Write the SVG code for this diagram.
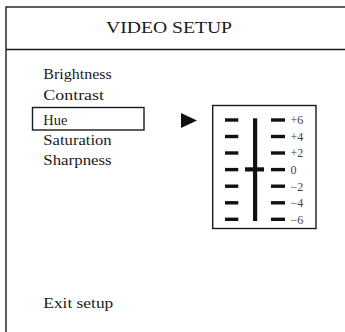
<svg xmlns="http://www.w3.org/2000/svg" width="345" height="332" viewBox="0 0 345 332">
<style>
.frame{fill:none;stroke:#1a1a1a;stroke-width:1.4}
.menu{font-family:"Liberation Serif",serif;font-size:14.5px;fill:#1a1a1a}
.title{font-family:"Liberation Serif",serif;font-size:17.5px;fill:#1a1a1a}
.lbl{font-family:"Liberation Serif",serif;font-size:12px;fill:#444}
.tick{fill:#111}
</style>
<rect width="345" height="332" fill="#fff"/>
<g id="frame">
<rect class="frame" x="6" y="7" width="360" height="340"/>
<line class="frame" x1="6" y1="49.5" x2="345" y2="49.5"/>
<text class="title" x="106" y="33.3" textLength="126" lengthAdjust="spacingAndGlyphs">VIDEO SETUP</text>
</g>
<g id="menu">
<text class="menu" x="43.3" y="79" textLength="68.4" lengthAdjust="spacingAndGlyphs">Brightness</text>
<text class="menu" x="43.3" y="99.5" textLength="60.7" lengthAdjust="spacingAndGlyphs">Contrast</text>
<g id="hue">
<rect class="frame" x="32.5" y="107.5" width="111.5" height="22.5" stroke-width="1.2"/>
<text class="menu" x="43.3" y="124.5" textLength="24" lengthAdjust="spacingAndGlyphs">Hue</text>
</g>
<text class="menu" x="43.3" y="144.5" textLength="68.4" lengthAdjust="spacingAndGlyphs">Saturation</text>
<text class="menu" x="43.3" y="164.5" textLength="68.4" lengthAdjust="spacingAndGlyphs">Sharpness</text>
<text class="menu" x="43.3" y="308.3" textLength="70" lengthAdjust="spacingAndGlyphs">Exit setup</text>
</g>
<g id="connectors">
<polygon points="181,113 181,128 197,120.5" fill="#111"/>
</g>
<g id="slider">
<rect class="frame" x="212.7" y="105.5" width="103.3" height="123" stroke-width="1.2"/>
<g class="tick">
<rect x="225" y="118.3" width="13.3" height="3.4"/>
<rect x="225" y="134.8" width="13.3" height="3.4"/>
<rect x="225" y="151.3" width="13.3" height="3.4"/>
<rect x="225" y="167.9" width="13.3" height="3.4"/>
<rect x="225" y="184.5" width="13.3" height="3.4"/>
<rect x="225" y="201.1" width="13.3" height="3.4"/>
<rect x="225" y="217.6" width="13.3" height="3.4"/>
<rect x="271" y="118.3" width="14" height="3.4"/>
<rect x="271" y="134.8" width="14" height="3.4"/>
<rect x="271" y="151.3" width="14" height="3.4"/>
<rect x="271" y="167.9" width="14" height="3.4"/>
<rect x="271" y="184.5" width="14" height="3.4"/>
<rect x="271" y="201.1" width="14" height="3.4"/>
<rect x="271" y="217.6" width="14" height="3.4"/>
<rect x="253" y="118.3" width="4.2" height="102.7"/>
<rect x="245" y="167.3" width="19" height="4.2"/>
</g>
<text class="lbl" x="290.5" y="124.3">+6</text>
<text class="lbl" x="290.5" y="140.8">+4</text>
<text class="lbl" x="290.5" y="157.3">+2</text>
<text class="lbl" x="290.5" y="173.9">0</text>
<text class="lbl" x="290.5" y="190.5">−2</text>
<text class="lbl" x="290.5" y="207.1">−4</text>
<text class="lbl" x="290.5" y="223.6">−6</text>
</g>
</svg>
